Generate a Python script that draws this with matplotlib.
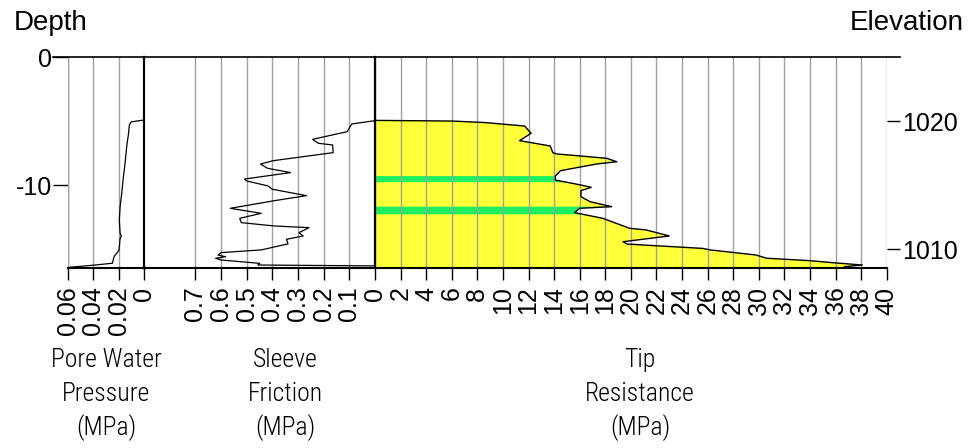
import numpy as np
import matplotlib
matplotlib.use("Agg")
import matplotlib.pyplot as plt
from matplotlib.lines import Line2D

ground_elev = 1025.0
depth_max = -16.44

# pore water pressure (MPa) vs depth (m)
u_depth = [-4.9, -5.05, -5.29, -6.07, -6.59, -6.98, -8.28, -9.33, -10.63, -11.67,
           -12.71, -13.75, -13.96, -14.14, -15.05, -15.31, -15.52, -15.78, -16.09, -16.23, -16.42]
u_val = [0.0, 0.0102, 0.0115, 0.0123, 0.0131, 0.0136, 0.0149, 0.0162, 0.0175, 0.0188,
         0.0194, 0.0188, 0.0178, 0.0188, 0.0196, 0.0214, 0.0233, 0.0241, 0.0248, 0.0384, 0.06]

# sleeve friction (MPa)
fs_depth = [-4.95, -5.21, -5.81, -6.41, -6.72, -6.85, -7.45, -8.08, -8.34, -8.67, -9.01,
            -9.51, -9.66, -10.05, -10.31, -10.81, -11.2, -11.8, -12.19, -12.58, -12.92,
            -13.18, -13.31, -13.7, -13.96, -14.22, -14.58, -15.05, -15.26, -15.45, -15.58,
            -15.7, -15.84, -16.1, -16.23, -16.3]
fs_val = [0.0, 0.091, 0.108, 0.243, 0.221, 0.165, 0.163, 0.397, 0.446, 0.419, 0.329,
          0.508, 0.501, 0.417, 0.4, 0.267, 0.391, 0.564, 0.443, 0.527, 0.521,
          0.391, 0.257, 0.296, 0.28, 0.345, 0.339, 0.443, 0.599, 0.612, 0.582,
          0.621, 0.599, 0.449, 0.456, 0.0]

# tip resistance (MPa)
qc_depth = [-4.93, -4.98, -5.1, -5.37, -5.94, -6.51, -6.93, -7.45, -7.55, -7.89, -8.16,
            -8.34, -8.86, -9.27, -9.59, -9.98, -10.16, -10.42, -10.89, -11.28, -11.67,
            -11.8, -12.14, -12.58, -13.36, -13.49, -13.96, -14.41, -14.59, -14.72, -14.93,
            -15.05, -15.45, -15.7, -15.89, -16.05, -16.23, -16.36, -16.44]
qc_val = [0.0, 6.0, 8.6, 11.7, 12.2, 11.3, 13.7, 13.9, 14.2, 18.1, 18.9,
          17.3, 14.5, 14.1, 14.1, 16.1, 16.9, 16.1, 16.1, 16.8, 18.5,
          16.0, 15.6, 17.8, 19.9, 21.2, 23.0, 19.4, 19.7, 21.9, 25.6,
          26.2, 29.8, 30.6, 34.0, 35.8, 38.1, 36.7, 36.7]

# green layers in the tip resistance column (top, bottom depth)
band_top = [-9.28, -11.67]
band_bot = [-9.76, -12.27]

u_ticks = [0.06, 0.04, 0.02, 0.0]
u_labels = ["0.06", "0.04", "0.02", "0"]
fs_ticks = [0.7, 0.6, 0.5, 0.4, 0.3, 0.2, 0.1]
fs_labels = ["0.7", "0.6", "0.5", "0.4", "0.3", "0.2", "0.1"]
qc_ticks = list(range(0, 41, 2))
qc_labels = [str(t) for t in qc_ticks]

# ---- layout helpers (pixel positions of the panels) ----
W, H = 971, 448
y_top, y_bot = 57.3, 267.7


def box(x0, x1):
    return [x0 / W, 1 - y_bot / H, (x1 - x0) / W, (y_bot - y_top) / H]


tick_font = ["Liberation Sans", "DejaVu Sans"]
cad_font = ["Roboto Condensed", "Roboto", "DejaVu Sans"]
grid_col = "#a0a0a0"
plt.rcParams["hatch.linewidth"] = 0.6

fig = plt.figure(figsize=(9.71, 4.48), dpi=100)
ax1 = fig.add_axes(box(67.7, 144))
ax2 = fig.add_axes(box(144, 375))
ax3 = fig.add_axes(box(375, 886.7))

for ax in (ax1, ax2, ax3):
    ax.set_ylim(depth_max, 0)
    for s in ("top", "left", "right"):
        ax.spines[s].set_visible(False)
    ax.spines["bottom"].set_linewidth(1.5)
    ax.tick_params(axis="x", direction="out", length=8.6, width=1.0, pad=5,
                   labelrotation=90, labelsize=18)
    ax.xaxis.grid(True, color=grid_col, lw=1.0)
    ax.set_yticks([])

ax2.spines["left"].set_visible(True)
ax2.spines["left"].set_linewidth(1.6)
ax3.spines["left"].set_visible(True)
ax3.spines["left"].set_linewidth(1.6)

# pore pressure
ax1.set_xlim(0.06, 0)
ax1.set_xticks(u_ticks)
ax1.set_xticklabels(u_labels, family=tick_font)
ax1.plot(u_val, u_depth, color="black", lw=0.9)
ax1.axvline(0.06, color=grid_col, lw=1.0)
ax1.set_yticks([0, -10])
ax1.set_yticklabels(["0", "-10"], family=tick_font)
ax1.tick_params(axis="y", direction="out", length=10.5, width=1.0, pad=1, labelsize=18)

# sleeve friction
ax2.set_xlim(0.9, 0)
ax2.set_xticks(fs_ticks)
ax2.set_xticklabels(fs_labels, family=tick_font)
ax2.plot(fs_val, fs_depth, color="black", lw=0.9)

# tip resistance
ax3.set_xlim(0, 40)
ax3.set_xticks(qc_ticks)
ax3.set_xticklabels(qc_labels, family=tick_font)
ax3.fill_betweenx(qc_depth, 0, qc_val, facecolor="#ffff00", edgecolor="#ffff3a",
                  lw=0, hatch="-" * 24, zorder=1)
for top, bot in zip(band_top, band_bot):
    dd = np.linspace(top, bot, 12)
    ax3.fill_betweenx(dd, 0, np.interp(dd, qc_depth[::-1], qc_val[::-1]),
                      facecolor="#1cf060", lw=0, zorder=1.2)
ax3.plot(qc_val, qc_depth, color="black", lw=1.0)

sec = ax3.secondary_yaxis("right", functions=(lambda d: d + ground_elev,
                                               lambda e: e - ground_elev))
sec.spines["right"].set_visible(False)
sec.set_yticks([1010, 1020])
sec.set_yticklabels(["1010", "1020"], family=tick_font)
sec.tick_params(direction="out", length=9.0, width=1.0, pad=2, labelsize=18)

# top line across all panels
fig.add_artist(Line2D([53 / W, 900 / W], [1 - y_top / H] * 2, color="black", lw=1.2))

# headers
fig.text(14 / W, 1 - 30 / H, "Depth", family=tick_font, fontsize=20, va="baseline", ha="left")
fig.text(964 / W, 1 - 30 / H, "Elevation", family=tick_font, fontsize=20, va="baseline", ha="right")

# column titles
titles = [(106, ["Pore Water", "Pressure", "(MPa)"]),
          (285, ["Sleeve", "Friction", "(MPa)"]),
          (640, ["Tip", "Resistance", "(MPa)"])]
for xc, lines in titles:
    for yb, txt in zip([366.7, 401, 435], lines):
        fig.text(xc / W, 1 - yb / H, txt, family=cad_font, fontsize=18.5,
                 fontweight="light", ha="center", va="baseline")

fig.savefig("out.png", dpi=100)
